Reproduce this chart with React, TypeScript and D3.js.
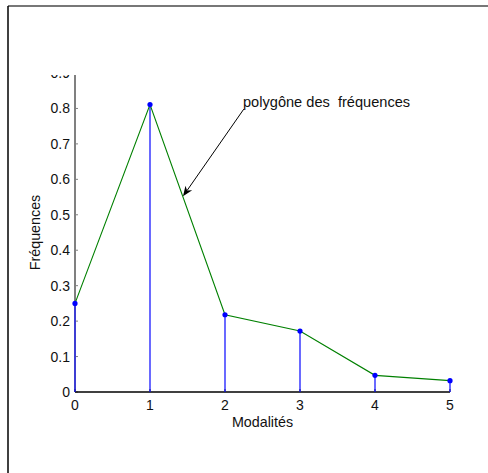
import React from "react";
import * as d3 from "d3";

const modalites = [0, 1, 2, 3, 4, 5];
const frequences = [0.25, 0.811, 0.218, 0.172, 0.047, 0.032];
const yTicks = [0, 0.1, 0.2, 0.3, 0.4, 0.5, 0.6, 0.7, 0.8, 0.9];
const xTicks = [0, 1, 2, 3, 4, 5];
const annotationText = "polygône des\u00a0\u00a0fréquences";
const annotationFrom = { x: 2.25, y: 0.798 };
const annotationTo = { x: 1.44, y: 0.552 };
const labelPos = { x: 2.24, y: 0.8 };

const W = 488;
const H = 473;

export default function App() {
  const x = d3.scaleLinear().domain([0, 5]).range([75, 450]);
  const y = d3.scaleLinear().domain([0, 0.9]).range([392, 73]);
  const font = "'Liberation Sans', Arial, Helvetica, sans-serif";

  const line = d3
    .line<number>()
    .x((_, i) => x(modalites[i]))
    .y((d) => y(d));

  const ax = x(annotationFrom.x);
  const ay = y(annotationFrom.y);
  const tx = x(annotationTo.x);
  const ty = y(annotationTo.y);
  const ang = Math.atan2(ty - ay, tx - ax);
  const L = 11;
  const spread = 0.38;
  const back = (a: number, l: number) => [tx - l * Math.cos(ang + a), ty - l * Math.sin(ang + a)];
  const p1 = back(spread, L);
  const p2 = back(-spread, L);
  const pn = back(0, L * 0.65);
  const head = `M${tx},${ty}L${p1[0]},${p1[1]}L${pn[0]},${pn[1]}L${p2[0]},${p2[1]}Z`;

  return (
    <svg
      width={W}
      height={H}
      style={{ position: "absolute", left: 0, top: 0, background: "#fff" }}
    >
      <defs>
        <clipPath id="axclip">
          <rect x={0} y={y(0.9) + 2} width={W} height={H} />
        </clipPath>
      </defs>
      {/* figure frame */}
      <line x1={8} y1={6} x2={W} y2={6} stroke="#777" strokeWidth={2} />
      <line x1={8} y1={6} x2={8} y2={H} stroke="#000" strokeWidth={1.5} />

      {/* y axis */}
      <g clipPath="url(#axclip)">
        <line x1={x(0)} y1={y(0)} x2={x(0)} y2={y(0.9)} stroke="#808080" strokeWidth={2} />
        {yTicks.map((t) => (
          <g key={t}>
            <line x1={x(0)} x2={x(0) + 3} y1={y(t)} y2={y(t)} stroke="#808080" strokeWidth={1} />
            <text
              x={x(0) - 5}
              y={y(t)}
              dy="0.36em"
              textAnchor="end"
              fontFamily={font}
              fontSize={14}
              fill="#111"
            >
              {t === 0 ? "0" : t.toFixed(1)}
            </text>
          </g>
        ))}
      </g>

      {/* x axis */}
      <line x1={x(0)} y1={y(0)} x2={x(5)} y2={y(0)} stroke="#000" strokeWidth={1.5} />
      {xTicks.map((t) => (
        <g key={t}>
          <line x1={x(t)} x2={x(t)} y1={y(0)} y2={y(0) - 3} stroke="#000" strokeWidth={1} />
          <text
            x={x(t)}
            y={y(0) + 18}
            textAnchor="middle"
            fontFamily={font}
            fontSize={14}
            fill="#111"
          >
            {t}
          </text>
        </g>
      ))}

      {/* stems */}
      {modalites.map((m, i) => (
        <line
          key={m}
          x1={x(m)}
          x2={x(m)}
          y1={y(0)}
          y2={y(frequences[i])}
          stroke="#1a1aff"
          strokeWidth={1.3}
        />
      ))}

      {/* polygon */}
      <path d={line(frequences) || ""} fill="none" stroke="#008000" strokeWidth={1.1} />

      {/* markers */}
      {modalites.map((m, i) => (
        <circle key={m} cx={x(m)} cy={y(frequences[i])} r={2.6} fill="#0000ff" />
      ))}

      {/* annotation */}
      <line x1={ax} y1={ay} x2={pn[0]} y2={pn[1]} stroke="#000" strokeWidth={1} />
      <path d={head} fill="#000" />
      <text x={x(labelPos.x)} y={y(labelPos.y) - 1} fontFamily={font} fontSize={14.6} fill="#111">
        {annotationText}
      </text>

      {/* labels */}
      <text
        x={(x(0) + x(5)) / 2}
        y={y(0) + 35}
        textAnchor="middle"
        fontFamily={font}
        fontSize={14.3}
        fill="#111"
      >
        Modalités
      </text>
      <text
        transform={`translate(40,${(y(0) + y(0.9)) / 2}) rotate(-90)`}
        textAnchor="middle"
        fontFamily={font}
        fontSize={14.3}
        fill="#111"
      >
        Fréquences
      </text>
    </svg>
  );
}
